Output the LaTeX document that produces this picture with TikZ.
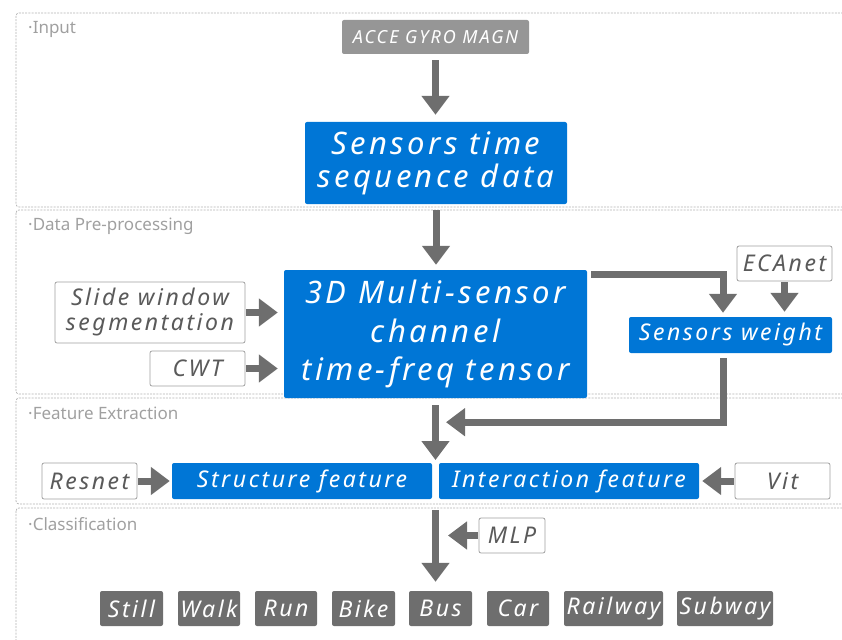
\documentclass[tikz,border=0pt]{standalone}
\usepackage{fontspec}
\setmainfont{Noto Sans}
\newfontfamily\spfont[LetterSpace=11]{Noto Sans}
\usetikzlibrary{arrows.meta,calc}
\definecolor{mblue}{RGB}{0,118,214}
\definecolor{agray}{RGB}{110,110,110}
\definecolor{igray}{RGB}{150,150,150}
\definecolor{lgray}{RGB}{160,160,160}
\definecolor{tgray}{RGB}{90,90,90}
\begin{document}
\begin{tikzpicture}[x=1pt,y=-1pt,
  bluebox/.style={fill=mblue, text=white, rounded corners=2pt, inner sep=0pt, align=center},
  whitebox/.style={draw=lgray, line width=0.8pt, fill=white, text=tgray, rounded corners=2pt, inner sep=0pt, align=center},
  classbox/.style={fill=agray, text=white, rounded corners=2pt, inner sep=0pt, minimum height=35pt, font=\spfont\itshape\fontsize{23}{25}\selectfont},
  flow/.style={draw=agray, line width=7pt, -{Triangle[width=27pt,length=19pt]}},
  panel/.style={draw=lgray!80, dash pattern=on 2pt off 1.2pt, line width=0.7pt, rounded corners=3pt},
  plabel/.style={text=lgray, font=\fontsize{17}{19}\selectfont, anchor=west, inner sep=0pt},
  big/.style={font=\spfont\itshape\fontsize{31}{33}\selectfont},
  mid/.style={font=\spfont\itshape\fontsize{23}{25}\selectfont}
]
\useasboundingbox (0,0) rectangle (842,639);
% panels
\draw[panel] (16,13) rectangle (852,207);
\draw[panel] (16,210) rectangle (852,394);
\draw[panel] (16,398) rectangle (852,504);
\draw[panel] (16,508) rectangle (852,660);
\node[plabel] (l1) at (28,29) {·Input};
\node[plabel] (l2) at (28,226) {·Data Pre-processing};
\node[plabel] (l3) at (28,413) {·Feature Extraction};
\node[plabel] (l4) at (28,524) {·Classification};
% nodes
\node[fill=igray, text=white, rounded corners=2pt, inner sep=0pt, minimum width=187pt, minimum height=34pt, font=\spfont\itshape\fontsize{18}{20}\selectfont] (acce) at (435.5,37) {ACCE GYRO MAGN};
\node[bluebox, big, minimum width=262pt, minimum height=82pt] (seq) at (436,163) {Sensors time\\sequence data};
\node[bluebox, font=\spfont\itshape\fontsize{31}{38.5}\selectfont, minimum width=303pt, minimum height=128pt] (tensor) at (435.5,334) {3D Multi-sensor\\channel\\time-freq tensor};
\node[whitebox, mid, minimum width=190pt, minimum height=61pt] (slide) at (150,312.5) {Slide window\\segmentation};
\node[whitebox, mid, minimum width=95pt, minimum height=35pt] (cwt) at (197.5,368.5) {CWT};
\node[whitebox, mid, minimum width=95pt, minimum height=35pt] (eca) at (784.5,263.5) {ECAnet};
\node[bluebox, mid, minimum width=203pt, minimum height=36pt] (sw) at (730.5,335) {Sensors weight};
\node[whitebox, mid, minimum width=95pt, minimum height=36pt] (resnet) at (89.5,481) {Resnet};
\node[bluebox, mid, minimum width=260pt, minimum height=36pt] (struct) at (302,481) {Structure feature};
\node[bluebox, mid, minimum width=260pt, minimum height=36pt] (inter) at (569,481) {Interaction feature};
\node[whitebox, mid, minimum width=95pt, minimum height=36pt] (vit) at (782.5,481) {Vit};
\node[whitebox, mid, minimum width=66pt, minimum height=35pt] (mlp) at (512,535.5) {MLP};
\node[classbox, minimum width=63pt] (still) at (131.5,608.5) {Still};
\node[classbox, minimum width=62pt] (walk) at (209,608.5) {Walk};
\node[classbox, minimum width=62pt] (run) at (286,608.5) {Run};
\node[classbox, minimum width=63pt] (bike) at (363.5,608.5) {Bike};
\node[classbox, minimum width=63pt] (bus) at (440.5,608.5) {Bus};
\node[classbox, minimum width=62pt] (car) at (518,608.5) {Car};
\node[classbox, minimum width=99pt] (rail) at (613.5,608.5) {Railway};
\node[classbox, minimum width=96pt] (sub) at (725,608.5) {Subway};
\coordinate (fgap) at (435.5,463);
\coordinate (fbot) at (435.5,499);
% connectors
\draw[flow, shorten <=6pt, shorten >=7pt] (acce.south) -- (acce.south |- seq.north);
\draw[flow, shorten <=6pt, shorten >=5pt] (seq.south) -- (seq.south |- tensor.north);
\draw[flow, shorten <=1pt, shorten >=6pt] (slide.east) -- (slide.east -| tensor.west);
\draw[flow, shorten <=1pt, shorten >=6pt] (cwt.east) -- (cwt.east -| tensor.west);
\draw[flow] ($(tensor.north east)+(4,5)$) -| ($(sw.north)+(-7.5,-4)$);
\draw[flow, shorten <=1pt, shorten >=5pt] (eca.south) -- (eca.south |- sw.north);
\draw[flow] ($(sw.south)+(-7.5,5)$) |- ($(tensor.south)+(10.5,24)$);
\draw[flow, shorten <=7pt, shorten >=3pt] (tensor.south) -- (fgap);
\draw[flow, shorten <=1pt, shorten >=2pt] (resnet.east) -- (struct.west);
\draw[flow, shorten <=1pt, shorten >=3pt] (vit.west) -- (inter.east);
\draw[flow, shorten <=11pt, shorten >=9pt] (fbot) -- (fbot |- bus.north);
\draw[flow, shorten <=1pt, shorten >=12.5pt] (mlp.west) -- (mlp.west -| fbot);
\end{tikzpicture}
\end{document}
